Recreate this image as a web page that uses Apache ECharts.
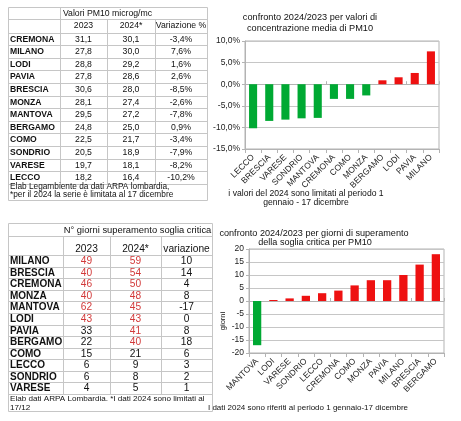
<!DOCTYPE html>
<html><head><meta charset="utf-8">
<script src="https://cdn.jsdelivr.net/npm/echarts@6/dist/echarts.min.js"></script>
<style>html,body{margin:0;padding:0;background:#fff}#c{width:461px;height:421px}</style>
</head><body><div id="c"></div>
<script>
// ---- Data: PM10 concentrations table ----
const pm10Cities = ['CREMONA','MILANO','LODI','PAVIA','BRESCIA','MONZA','MANTOVA','BERGAMO','COMO','SONDRIO','VARESE','LECCO'];
const pm10_2023 = [31.1,27.8,28.8,27.8,30.6,28.1,29.5,24.8,22.5,20.5,19.7,18.2];
const pm10_2024 = [30.1,30.0,29.2,28.6,28.0,27.4,27.2,25.0,21.7,18.9,18.1,16.4];
const pm10Var = [-3.4,7.6,1.6,2.6,-8.5,-2.6,-7.8,0.9,-3.4,-7.9,-8.2,-10.2];

// ---- Data: PM10 concentration change chart ----
const chart1Cats = ['LECCO','BRESCIA','VARESE','SONDRIO','MANTOVA','CREMONA','COMO','MONZA','BERGAMO','LODI','PAVIA','MILANO'];
const chart1Vals = [-10.2,-8.5,-8.2,-7.9,-7.8,-3.4,-3.4,-2.6,0.9,1.6,2.6,7.6];
const chart1Ticks = [-15,-10,-5,0,5,10];

// ---- Data: exceedance days table ----
const daysCities = ['MILANO','BRESCIA','CREMONA','MONZA','MANTOVA','LODI','PAVIA','BERGAMO','COMO','LECCO','SONDRIO','VARESE'];
const days2023 = [49,40,46,40,62,43,33,22,15,6,6,4];
const days2024 = [59,54,50,48,45,43,41,40,21,9,8,5];
const daysVar = [10,14,4,8,-17,0,8,18,6,3,2,1];

// ---- Data: exceedance days change chart ----
const chart2Cats = ['MANTOVA','LODI','VARESE','SONDRIO','LECCO','CREMONA','COMO','MONZA','PAVIA','MILANO','BRESCIA','BERGAMO'];
const chart2Vals = [-17,0,1,2,3,4,6,8,8,10,14,18];
const chart2Ticks = [-20,-15,-10,-5,0,5,10,15,20];

// ---- Styling ----
const FONT = '"Liberation Sans", Arial, sans-serif';
const GREEN = '#00a933', RED = '#ee1111', RED_TXT = '#d23a3a';
const GRID = '#c6c6c6', AXIS = '#b3b3b3';
const comma = (v, d) => v.toFixed(d).replace('.', ',');

const g = [];
function line(x1,y1,x2,y2){ g.push({type:'line',silent:true,shape:{x1,y1,x2,y2},style:{stroke:GRID,lineWidth:1}}); }
function txt(text,x,y,size,opts){
  opts = opts||{};
  g.push({type:'text',silent:true,rotation:opts.rot||0,x:opts.rot?x:0,y:opts.rot?y:0,
    style:{text:String(text),x:opts.rot?0:x,y:opts.rot?0:y,textAlign:opts.align||'center',textVerticalAlign:opts.va||'middle',
      fontSize:size,fontFamily:FONT,fontWeight:opts.bold?'bold':'normal',fill:opts.color||'#111'}});
}
function table(L, header1, header2, labels, cols3, colorFn, labelSize, valSize, h1Size, h2Size, mergeFrom, footer, footSize, footY){
  const n = labels.length;
  const end = L.head2 + n*L.rowH;
  g.push({type:'rect',silent:true,shape:{x:L.cols[0]+0.5,y:L.top+0.5,width:L.cols[4]-L.cols[0],height:L.bottom-L.top},style:{fill:'#fff',stroke:GRID,lineWidth:1}});
  const hy = [L.head1, L.head2];
  for (let i=1;i<=n;i++) hy.push(L.head2+i*L.rowH);
  hy.forEach(y=>line(L.cols[0], Math.round(y)+0.5, L.cols[4], Math.round(y)+0.5));
  for (let c=1;c<=3;c++){
    const y0 = (c>mergeFrom) ? L.head1 : L.top;
    line(L.cols[c]+0.5, y0, L.cols[c]+0.5, Math.round(end)+0.5);
  }
  const mEnd = mergeFrom===1 ? L.cols[3] : L.cols[4];
  txt(header1, (L.cols[1]+mEnd)/2, (L.top+L.head1)/2+0.5, h1Size);
  header2.forEach((h,i)=>txt(h,(L.cols[i+1]+L.cols[i+2])/2, L.h2y, h2Size));
  labels.forEach((lab,r)=>{
    const cy = L.head2 + (r+0.5)*L.rowH + 0.5;
    txt(lab, L.cols[0]+2, cy, labelSize, {align:'left', bold:true});
    cols3.forEach((arr,c)=>txt(arr[r], (L.cols[c+1]+L.cols[c+2])/2, cy, valSize, {color:colorFn(c,r)}));
  });
  footer.forEach((f,i)=>txt(f, L.cols[0]+2, footY[i], footSize, {align:'left'}));
}

// Table 1
table({cols:[8,60,107,155,207], top:7, head1:19, head2:32.5, rowH:12.6, bottom:200, h2y:26},
  'Valori PM10 microg/mc', ['2023','2024*','Variazione %'], pm10Cities,
  [pm10_2023.map(v=>comma(v,1)), pm10_2024.map(v=>comma(v,1)), pm10Var.map(v=>comma(v,1)+'%')],
  ()=> '#111', 8.6, 8.7, 8.7, 8.7, 1,
  ['Elab Legambiente da dati ARPA lombardia,', '*per il 2024 la serie è limitata al 17 dicembre'], 8.3, [186.5, 195]);

// Table 2
table({cols:[8,63,110,161,212], top:223, head1:236, head2:255.2, rowH:11.55, bottom:411, h2y:249},
  'N° giorni superamento soglia critica', ['2023','2024*','variazione'], daysCities,
  [days2023, days2024, daysVar],
  (c,r)=> (c===0 && days2023[r]>35) || (c===1 && days2024[r]>35) ? RED_TXT : '#111',
  10, 10.2, 9.4, 10.2, 0,
  ['Elab dati ARPA Lombardia. *I dati 2024 sono limitati al', '17/12'], 8.1, [398.5, 407.5]);

// Chart titles / notes
txt('confronto 2024/2023 per valori di', 310, 17, 9.2);
txt('concentrazione media di PM10', 310, 28, 9.2);
txt('i valori del 2024 sono limitati al periodo 1', 306, 193.5, 8.6);
txt('gennaio - 17 dicembre', 306, 202.5, 8.6);
txt('confronto 2024/2023 per giorni di superamento', 314, 233, 9.1);
txt('della soglia critica per PM10', 315, 242.5, 9.1);
txt('I dati 2024 sono riferiti al periodo 1 gennaio-17 dicembre', 308, 407.5, 8);
txt('giorni', 223, 321, 7.5, {rot:Math.PI/2});

function barData(vals){ return vals.map(v=>({value:v,itemStyle:{color: v<0?GREEN:RED}})); }
function xAxes(cats, gi, margin){
  return [
    {type:'category',gridIndex:gi,data:cats,position:'bottom',
     axisLine:{onZero:false,lineStyle:{color:AXIS}},
     axisTick:{show:true,length:4,lineStyle:{color:AXIS}},
     axisLabel:{interval:0,rotate:45,fontSize:8.5,fontFamily:FONT,color:'#222',margin:margin}},
    {type:'category',gridIndex:gi,data:cats,position:'top',
     axisLine:{onZero:true,lineStyle:{color:AXIS}},
     axisTick:{show:true,length:3,lineStyle:{color:AXIS}},
     axisLabel:{show:false}}
  ];
}
function yAxis(ticks, gi, fmt){
  return {type:'value',gridIndex:gi,min:ticks[0],max:ticks[ticks.length-1],interval:ticks[1]-ticks[0],
    axisLine:{show:true,lineStyle:{color:AXIS}},
    axisTick:{show:true,length:3,lineStyle:{color:AXIS}},
    splitLine:{lineStyle:{color:GRID}},
    axisLabel:{fontSize:8.5,fontFamily:FONT,color:'#222',margin:5,formatter:fmt}};
}

const option = {
  animation:false,
  backgroundColor:'#fff',
  grid:[
    {left:245,top:41,width:194,height:108,show:true,borderColor:AXIS,borderWidth:1,containLabel:false},
    {left:249,top:249,width:195,height:104,show:true,borderColor:AXIS,borderWidth:1,containLabel:false}
  ],
  xAxis:[...xAxes(chart1Cats,0,7), ...xAxes(chart2Cats,1,7)],
  yAxis:[yAxis(chart1Ticks,0,v=>comma(v,1)+'%'), yAxis(chart2Ticks,1,v=>String(v))],
  series:[
    {type:'bar',xAxisIndex:0,yAxisIndex:0,barWidth:'50%',data:barData(chart1Vals)},
    {type:'bar',xAxisIndex:2,yAxisIndex:1,barWidth:'51%',barMinHeight:1,data:barData(chart2Vals)}
  ],
  graphic:{elements:g}
};
const chart = echarts.init(document.getElementById('c'), null, {renderer:'canvas'});
chart.setOption(option);
</script>
</body></html>
